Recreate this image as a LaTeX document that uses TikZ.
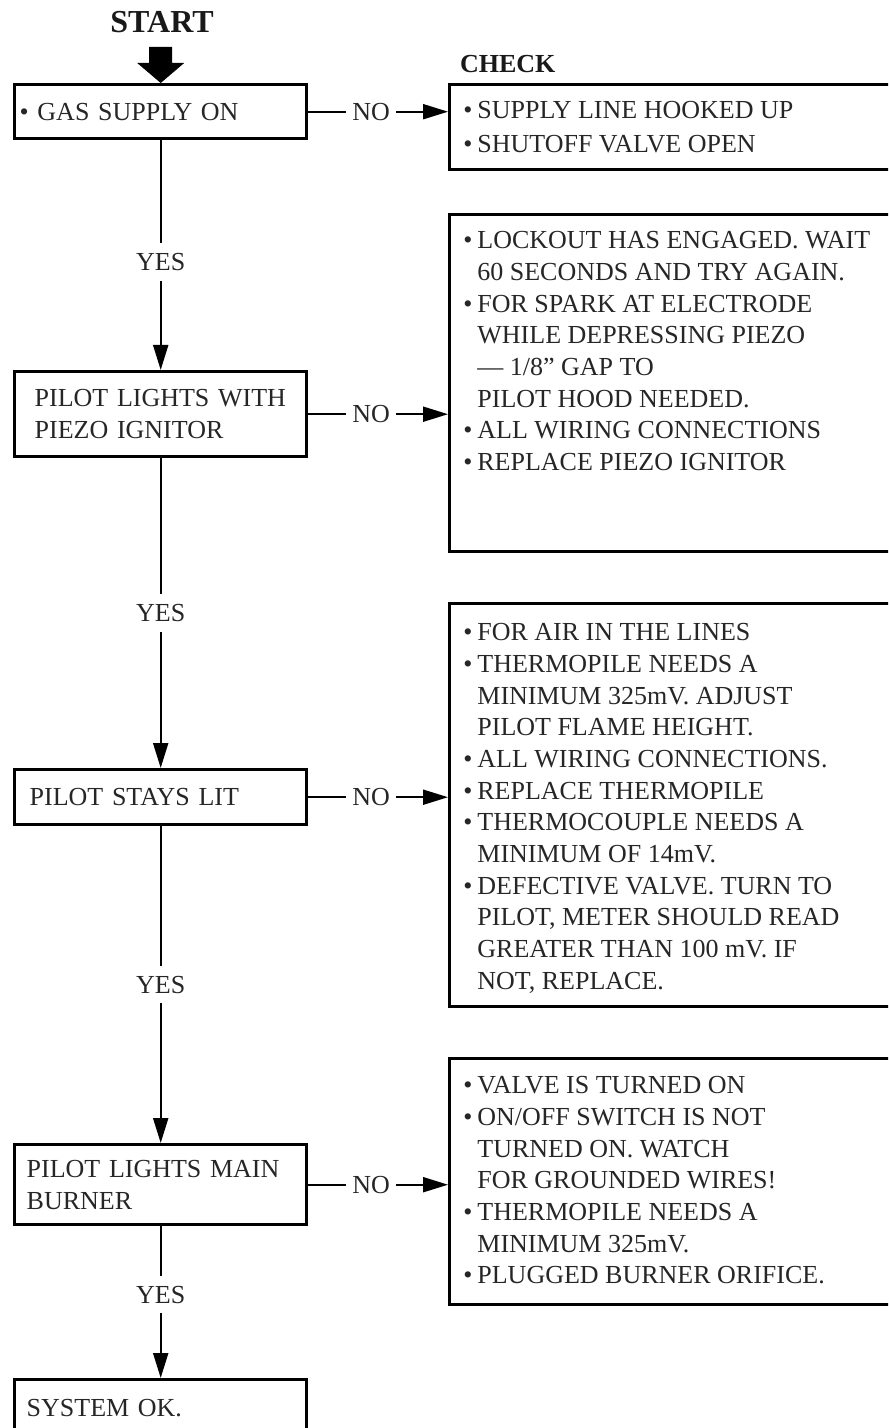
\documentclass[tikz,border=0pt]{standalone}
\usepackage{fontspec}
\setmainfont{Liberation Serif}
\usepackage{xcolor}
\usetikzlibrary{arrows.meta}
\newcommand{\fcbul}{\makebox[7pt][l]{\textbullet}}
\newcommand{\fcind}{\hspace*{7pt}}
\tikzset{
  fcfont/.style={font=\fontsize{13}{15.85}\selectfont, text=black!85},
  fcbox/.style={fcfont, draw=black, line width=1.7pt, anchor=north west, align=left,
    text width=134pt, inner xsep=6pt, inner ysep=0pt},
  fcframe/.style={draw=black, line width=1.7pt, anchor=north west, minimum width=226pt, inner sep=0pt},
  fctext/.style={fcfont, anchor=north west, align=left, inner sep=0pt},
  fcline/.style={line width=1pt, draw=black, -{Triangle[length=12.5pt,width=7.5pt]}},
  fcyes/.style={fcfont, fill=white, inner xsep=2pt, inner ysep=5pt},
  fcno/.style={fcfont, fill=white, inner xsep=3pt, inner ysep=1pt},
  fchead/.style={font=\bfseries\fontsize{13}{15}\selectfont, text=black!90},
}
\begin{document}
\begin{tikzpicture}[x=0.5pt,y=-0.5pt]
\clip (0,0) rectangle (888,1428);
\node[fchead, font=\bfseries\fontsize{16}{18}\selectfont] (start) at (162,22) {START};
\node[fchead, anchor=west] (check) at (453,64) {CHECK};
\node[fcbox, minimum height=27pt, text width=141pt, inner xsep=2.5pt] (gas) at (13,83) {\textbullet\ GAS SUPPLY ON};
\node[fcbox, minimum height=42.5pt, text width=126pt, inner xsep=10pt] (piezo) at (13,370) {PILOT LIGHTS WITH\\PIEZO IGNITOR};
\node[fcbox, minimum height=27.5pt, text width=131pt, inner xsep=7.5pt] (stays) at (13,768) {PILOT STAYS LIT};
\node[fcbox, minimum height=40pt] (burner) at (13,1143) {PILOT LIGHTS MAIN\\BURNER};
\node[fcbox, minimum height=28pt] (sysok) at (13,1378) {SYSTEM OK.};
\node[fcframe, minimum height=42.5pt] (chk1) at (448,83) {};
\node[fcframe, minimum height=168.5pt] (chk2) at (448,213) {};
\node[fcframe, minimum height=201.5pt] (chk3) at (448,602) {};
\node[fcframe, minimum height=123pt] (chk4) at (448,1057) {};
\node[fctext] (chk1txt) at (463,101) {\fcbul SUPPLY LINE HOOKED UP\\[1pt]\fcbul SHUTOFF VALVE OPEN};
\node[fctext] (chk2txt) at (463,231) {\fcbul LOCKOUT HAS ENGAGED. WAIT\\\fcind 60 SECONDS AND TRY AGAIN.\\\fcbul FOR SPARK AT ELECTRODE\\\fcind WHILE DEPRESSING PIEZO\\\fcind --- 1/8" GAP TO\\\fcind PILOT HOOD NEEDED.\\\fcbul ALL WIRING CONNECTIONS\\\fcbul REPLACE PIEZO IGNITOR};
\node[fctext] (chk3txt) at (463,623) {\fcbul FOR AIR IN THE LINES\\\fcbul THERMOPILE NEEDS A\\\fcind MINIMUM 325mV. ADJUST\\\fcind PILOT FLAME HEIGHT.\\\fcbul ALL WIRING CONNECTIONS.\\\fcbul REPLACE THERMOPILE\\\fcbul THERMOCOUPLE NEEDS A\\\fcind MINIMUM OF 14mV.\\\fcbul DEFECTIVE VALVE. TURN TO\\\fcind PILOT, METER SHOULD READ\\\fcind GREATER THAN 100 mV. IF\\\fcind NOT, REPLACE.};
\node[fctext] (chk4txt) at (463,1076) {\fcbul VALVE IS TURNED ON\\\fcbul ON/OFF SWITCH IS NOT\\\fcind TURNED ON. WATCH\\\fcind FOR GROUNDED WIRES!\\\fcbul THERMOPILE NEEDS A\\\fcind MINIMUM 325mV.\\\fcbul PLUGGED BURNER ORIFICE.};
\fill[black] (gas.north) -- ++(-23.5,-20) -- ++(12,0) -- ++(0,-16) -- ++(23,0) -- ++(0,16) -- ++(12,0) -- cycle;
\draw[fcline] (gas) -- node[fcyes, pos=0.53] {YES} (piezo);
\draw[fcline] (piezo) -- node[fcyes] {YES} (stays);
\draw[fcline] (stays) -- node[fcyes] {YES} (burner);
\draw[fcline] (burner) -- node[fcyes, pos=0.45] {YES} (sysok);
\draw[fcline] (gas.east) -- node[fcno, pos=0.45] {NO} (gas.east -| chk1.west);
\draw[fcline] (piezo.east) -- node[fcno, pos=0.45] {NO} (piezo.east -| chk2.west);
\draw[fcline] (stays.east) -- node[fcno, pos=0.45] {NO} (stays.east -| chk3.west);
\draw[fcline] (burner.east) -- node[fcno, pos=0.45] {NO} (burner.east -| chk4.west);
\end{tikzpicture}
\end{document}
